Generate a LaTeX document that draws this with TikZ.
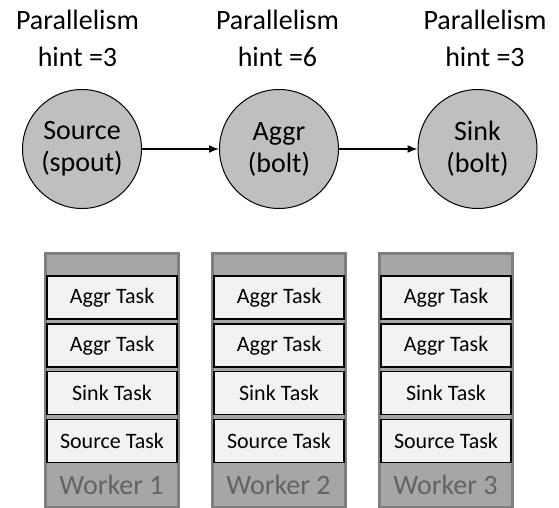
\documentclass[tikz,border=0pt]{standalone}
\usepackage{fontspec}
\setmainfont{Carlito}
\usetikzlibrary{arrows.meta}

\definecolor{boltgray}{HTML}{BFBFBF}
\definecolor{taskfill}{HTML}{F2F2F2}
\definecolor{workerfill}{HTML}{A6A6A6}
\definecolor{workerline}{HTML}{7F7F7F}
\definecolor{workertext}{HTML}{636363}

\def \boltsize {119pt}
\def \taskw {130pt}
\def \taskh {43pt}
\def \workerw {133pt}
\def \workerh {254pt}

\tikzset{
  bolt/.style={draw, line width=1pt, circle, fill=boltgray, minimum size=\boltsize, inner sep=0pt, align=center, font=\fontsize{28}{32}\selectfont},
  hint/.style={align=center, font=\fontsize{28}{37}\selectfont},
  task/.style={draw, line width=1.3pt, fill=taskfill, minimum width=\taskw, minimum height=\taskh, inner sep=0pt, font=\fontsize{22}{26}\selectfont},
  worker/.style={draw=workerline, line width=3pt, fill=workerfill, minimum width=\workerw, minimum height=\workerh, inner sep=0pt},
  wlabel/.style={text=workertext, font=\fontsize{28}{32}\selectfont},
  flow/.style={line width=1.5pt, -{Latex[length=10pt, width=8pt]}}
}

\begin{document}
\begin{tikzpicture}[x=1pt, y=-1pt]
\useasboundingbox (0,0) rectangle (559,508);

% topology
\node[hint] (hsrc) at (77.5,38) {Parallelism\\hint =3};
\node[hint] (haggr) at (277.5,38) {Parallelism\\hint =6};
\node[hint] (hsink) at (485,38) {Parallelism\\hint =3};
\node[bolt] (src) at (82,149) {Source\\(spout)};
\node[bolt] (aggr) at (279,149) {Aggr\\(bolt)};
\node[bolt] (sink) at (477.5,149) {Sink\\(bolt)};
\draw[flow] (src) -- (aggr);
\draw[flow] (aggr) -- (sink);

% worker 1
\node[worker] (w1) at (111.5,380) {};
\node[task] (w1a) at (112,297.5) {Aggr Task};
\node[task] (w1b) at (112,345.5) {Aggr Task};
\node[task] (w1c) at (112,393) {Sink Task};
\node[task] (w1d) at (112,441) {Source Task};
\node[wlabel] (w1l) at (111.5,485) {Worker 1};

% worker 2
\node[worker] (w2) at (278.5,380) {};
\node[task] (w2a) at (279,297.5) {Aggr Task};
\node[task] (w2b) at (279,345.5) {Aggr Task};
\node[task] (w2c) at (279,393) {Sink Task};
\node[task] (w2d) at (279,441) {Source Task};
\node[wlabel] (w2l) at (278.5,485) {Worker 2};

% worker 3
\node[worker] (w3) at (445.5,380) {};
\node[task] (w3a) at (446,297.5) {Aggr Task};
\node[task] (w3b) at (446,345.5) {Aggr Task};
\node[task] (w3c) at (446,393) {Sink Task};
\node[task] (w3d) at (446,441) {Source Task};
\node[wlabel] (w3l) at (445.5,485) {Worker 3};
\end{tikzpicture}
\end{document}
